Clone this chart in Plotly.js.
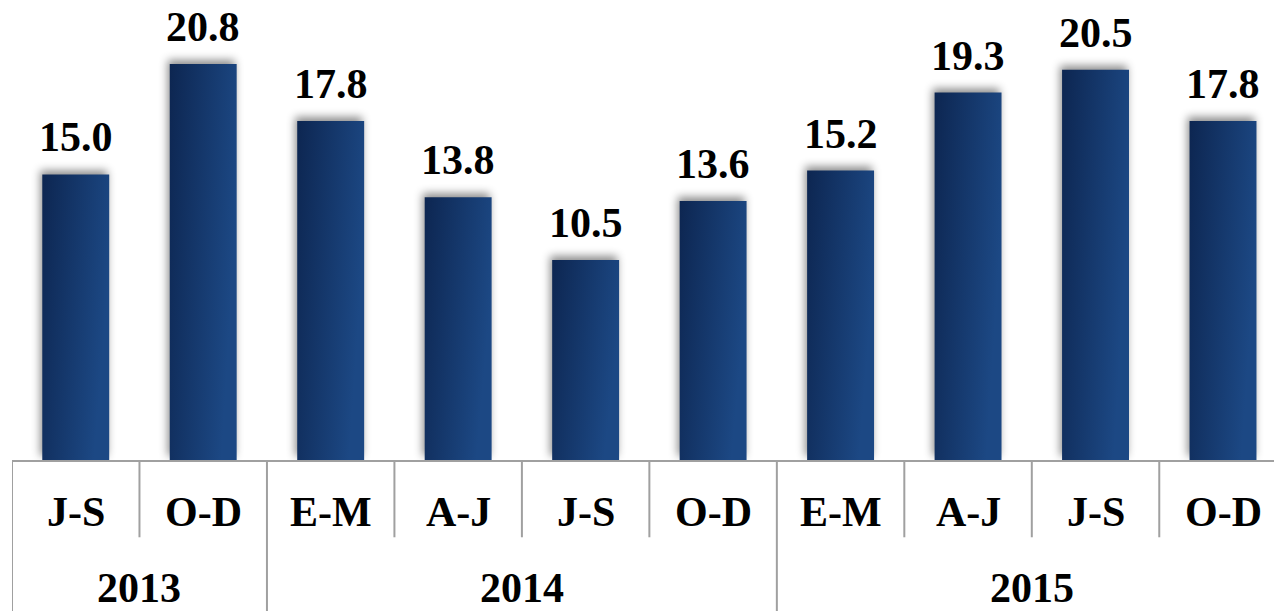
<!DOCTYPE html>
<html>
<head>
<meta charset="utf-8">
<script src="https://cdn.plot.ly/plotly-3.0.1.min.js"></script>
<style>
html,body{margin:0;padding:0;background:#fff;}
#chart{width:1274px;height:611px;}
</style>
</head>
<body>
<div id="chart"></div>
<script>
const quarters = ["J-S","O-D","E-M","A-J","J-S","O-D","E-M","A-J","J-S","O-D"];
const years = ["2013","2013","2014","2014","2014","2014","2015","2015","2015","2015"];
const values = [15.0, 20.8, 17.8, 13.8, 10.5, 13.6, 15.2, 19.3, 20.5, 17.8];

const idx = values.map((v,i)=>i);
const FAMILY = "Liberation Serif";
const labelFont = {family:FAMILY, size:42, color:"#000", weight:700};

const annotations = [];
const shapes = [];
values.forEach((v,i)=>{
  annotations.push({x:i, y:v, xref:'x', yref:'y', text:v.toFixed(1), showarrow:false,
    yanchor:'bottom', yshift:12, font:labelFont});
  annotations.push({x:i, y:-0.113, xref:'x', yref:'paper', text:quarters[i], showarrow:false,
    yanchor:'middle', font:labelFont});
});
const groups = [];
years.forEach((y,i)=>{
  if(!groups.length || groups[groups.length-1].year!==y) groups.push({year:y,start:i,end:i});
  else groups[groups.length-1].end = i;
});
groups.forEach(g=>{
  annotations.push({x:(g.start+g.end)/2, y:-0.278, xref:'x', yref:'paper', text:g.year, showarrow:false,
    yanchor:'middle', font:labelFont});
  shapes.push({type:'line', xref:'x', yref:'paper', x0:g.start-0.5, x1:g.start-0.5, y0:0, y1:-0.33,
    line:{color:'#a0a0a0', width:2}});
});
for(let i=1;i<years.length;i++){
  if(years[i]===years[i-1]){
    shapes.push({type:'line', xref:'x', yref:'paper', x0:i-0.5, x1:i-0.5, y0:0, y1:-0.168,
      line:{color:'#a0a0a0', width:2}});
  }
}

const trace = {
  type:'bar', x:idx, y:values, width:0.525,
  marker:{color:'#163b70', line:{width:0}},
  hoverinfo:'skip'
};

const layout = {
  width:1274, height:611,
  margin:{l:12, r:0, t:0, b:151},
  paper_bgcolor:'#fff', plot_bgcolor:'#fff',
  showlegend:false,
  font:{family:FAMILY},
  xaxis:{type:'linear', range:[-0.5, 9.4], showticklabels:false, ticks:'', showgrid:false, zeroline:false,
    showline:true, linecolor:'#a0a0a0', linewidth:2, fixedrange:true},
  yaxis:{range:[0, 24.16], visible:false, showgrid:false, zeroline:false, fixedrange:true},
  annotations:annotations,
  shapes:shapes
};

function styleBars(gd){
  const NS='http://www.w3.org/2000/svg';
  const svg = gd.querySelector('.main-svg');
  let defs = svg.querySelector('defs');
  if(!defs){defs=document.createElementNS(NS,'defs'); svg.insertBefore(defs, svg.firstChild);}
  if(!svg.querySelector('#barGrad')){
    const grad = document.createElementNS(NS,'linearGradient');
    grad.setAttribute('id','barGrad');
    grad.setAttribute('x1','0'); grad.setAttribute('y1','0');
    grad.setAttribute('x2','1'); grad.setAttribute('y2','0.35');
    [['0','#0d2651'],['1','#1c4884']].forEach(([o,c])=>{
      const s=document.createElementNS(NS,'stop');
      s.setAttribute('offset',o); s.setAttribute('stop-color',c);
      grad.appendChild(s);
    });
    defs.appendChild(grad);
  }
  gd.querySelectorAll('.bars path').forEach(p=>{
    p.style.fill='url(#barGrad)';
    p.style.filter='drop-shadow(-2px -4px 4px rgba(0,0,0,0.45))';
  });
}

function forceLayout(gd){
  gd.querySelectorAll('text').forEach(t=>{
    getComputedStyle(t).fontFamily;
    try{ t.getComputedTextLength(); t.getBBox(); }catch(e){}
  });
}

const fontLoads = (document.fonts && document.fonts.load) ?
  Promise.all([
    document.fonts.load('700 42px "Liberation Serif"', '0123456789.-JSODEMA'),
    document.fonts.load('400 42px "Liberation Serif"', '0123456789')
  ]).catch(()=>{}) : Promise.resolve();

fontLoads.then(()=> (document.fonts ? document.fonts.ready : null)).then(()=>{
  return Plotly.newPlot('chart',[trace],layout,{staticPlot:true});
}).then(gd=>{
  forceLayout(gd);
  return Plotly.relayout(gd, {annotations: annotations}).then(()=>gd);
}).then(gd=>{
  forceLayout(gd);
  styleBars(gd);
});
</script>
</body>
</html>
